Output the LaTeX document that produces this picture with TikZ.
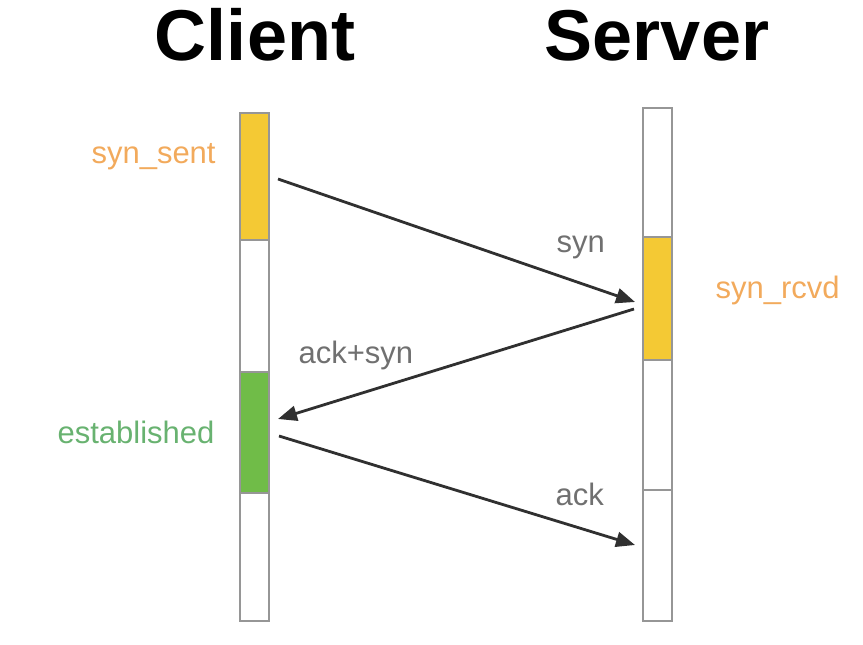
\documentclass[tikz,border=0pt]{standalone}
\usepackage{fontspec}
\setmainfont{Liberation Sans}
\usepackage{tikz}
\usetikzlibrary{arrows.meta,positioning,calc}
\definecolor{synyellow}{RGB}{244,201,52}
\definecolor{estgreen}{RGB}{112,188,72}
\definecolor{barline}{RGB}{150,150,150}
\definecolor{lblorange}{RGB}{242,170,92}
\definecolor{lblgreen}{RGB}{104,178,112}
\definecolor{lblgrey}{RGB}{112,112,112}
\definecolor{msgline}{RGB}{48,48,48}

\begin{document}
\begin{tikzpicture}[x=1pt, y=-1pt,
    seg/.style={rectangle, draw=barline, line width=2.2pt, minimum width=29pt, inner sep=0pt},
    title/.style={font=\fontsize{72}{72}\selectfont\bfseries, anchor=base},
    msglabel/.style={font=\fontsize{31}{31}\selectfont, text=lblgrey, anchor=base west},
    state/.style={font=\fontsize{31}{31}\selectfont, anchor=base},
    msg/.style={draw=msgline, line width=2.8pt, -{Triangle[length=19pt,width=15pt]}},
]
    \useasboundingbox (0,0) rectangle (863,645);

    \node[title] (client) at (255,60) {Client};
    \node[title] (server) at (657,60) {Server};

    % client timeline
    \foreach \name/\top/\bot/\col in {c1/113/240/synyellow, c2/240/372/white, c3/372/493/estgreen, c4/493/621/white} {
        \node[seg, fill=\col, minimum height={(\bot-\top)*1pt}] (\name) at (254.5,{(\top+\bot)/2}) {};
    }
    % server timeline
    \foreach \name/\top/\bot/\col in {s1/108/237/white, s2/237/360/synyellow, s3/360/490/white, s4/490/621/white} {
        \node[seg, fill=\col, minimum height={(\bot-\top)*1pt}] (\name) at (657.5,{(\top+\bot)/2}) {};
    }

    \node[state, text=lblorange, anchor=base west] (sent) at (88,163) {syn\_sent};
    \node[state, text=lblorange, anchor=base west] (rcvd) at (712,298) {syn\_rcvd};
    \node[state, text=lblgreen, anchor=base east] (est) at (218,443) {established};

    \coordinate (synA) at (278,179);
    \coordinate (synB) at (635,302);
    \coordinate (asA) at (634,309);
    \coordinate (asB) at (278,419);
    \coordinate (ackA) at (279,436);
    \coordinate (ackB) at (635,545);

    \draw[msg] (synA) -- (synB);
    \draw[msg] (asA) -- (asB);
    \draw[msg] (ackA) -- (ackB);

    \node[msglabel] (synlbl) at (553,252) {syn};
    \node[msglabel] (aslbl) at (295,363) {ack+syn};
    \node[msglabel] (acklbl) at (552,505) {ack};
\end{tikzpicture}
\end{document}
